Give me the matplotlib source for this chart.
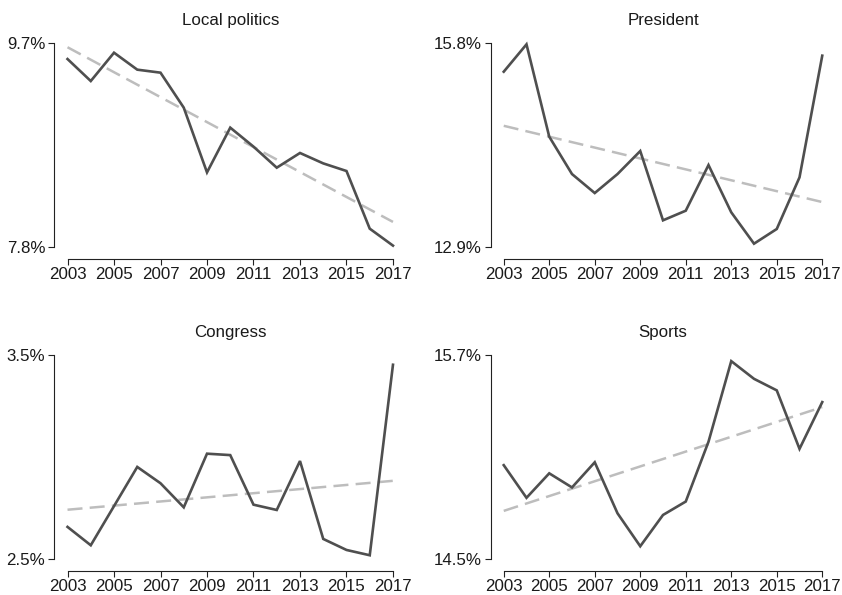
import numpy as np
import matplotlib
matplotlib.use("Agg")
import matplotlib.pyplot as plt

plt.rcParams['font.family'] = ['Liberation Sans', 'DejaVu Sans']

years = list(range(2003, 2018))
year_ticks = [2003, 2005, 2007, 2009, 2011, 2013, 2015, 2017]

local_politics = [9.554, 9.349, 9.613, 9.455, 9.427, 9.101, 8.498, 8.915,
                  8.738, 8.542, 8.679, 8.582, 8.511, 7.974, 7.816]
president = [15.397, 15.786, 14.473, 13.942, 13.672, 13.942, 14.269, 13.284,
             13.421, 14.070, 13.398, 12.952, 13.161, 13.895, 15.625]
congress = [2.659, 2.569, 2.761, 2.953, 2.873, 2.755, 3.018, 3.011,
            2.768, 2.742, 2.982, 2.600, 2.546, 2.520, 3.454]
sports = [15.054, 14.862, 15.006, 14.923, 15.071, 14.771, 14.577, 14.761,
          14.840, 15.192, 15.666, 15.562, 15.494, 15.150, 15.425]

titles = ["Local politics", "President", "Congress", "Sports"]
series = [local_politics, president, congress, sports]
y_ranges = [(7.8, 9.7), (12.9, 15.8), (2.5, 3.5), (14.5, 15.7)]

W, H = 842, 595
fig = plt.figure(figsize=(W / 100, H / 100), dpi=100)

# plot regions in pixels: (left, top, right, bottom)
regions = [(54.5, 35.2, 406.0, 255.5),
           (491.0, 35.2, 835.0, 255.5),
           (54.5, 347.2, 406.0, 567.5),
           (491.0, 347.2, 835.0, 567.5)]

LINE = "#4f4f4f"
TREND = "#bdbdbd"
FS = 12.2

for title, vals, (ylo, yhi), (l, t, r, b) in zip(titles, series, y_ranges, regions):
    ax = fig.add_axes([l / W, 1 - b / H, (r - l) / W, (b - t) / H])
    x = np.array(years, dtype=float)
    y = np.array(vals)
    slope, icpt = np.polyfit(x, y, 1)
    tl, = ax.plot(x, slope * x + icpt, color=TREND, lw=1.8,
                  solid_capstyle="butt", dash_capstyle="butt")
    tl.set_dashes([6.0, 2.9])
    ax.plot(x, y, color=LINE, lw=1.9, solid_joinstyle="miter")

    xm = 0.04 * (years[-1] - years[0])
    ym = 0.04 * (yhi - ylo)
    ax.set_xlim(years[0] - xm, years[-1] + xm)
    ax.set_ylim(ylo - ym, yhi + ym)

    for s in ("top", "right"):
        ax.spines[s].set_visible(False)
    ax.spines["left"].set_bounds(ylo, yhi)
    ax.spines["bottom"].set_bounds(years[0], years[-1])
    ax.spines["bottom"].set_position(("outward", 2.5))
    for s in ("left", "bottom"):
        ax.spines[s].set_linewidth(0.8)
        ax.spines[s].set_color("#222222")
    ax.tick_params(axis="both", direction="out", length=4.2, width=0.8,
                   color="#222222", labelcolor="#1a1a1a", labelsize=FS)
    ax.tick_params(axis="x", pad=1.5)
    ax.tick_params(axis="y", pad=2.5)

    ax.set_xticks(year_ticks)
    ax.set_xticklabels([str(v) for v in year_ticks])
    ax.set_yticks([ylo, yhi])
    ax.set_yticklabels([f"{ylo:.1f}%", f"{yhi:.1f}%"])

    ax.set_facecolor("none")
    ax.set_title(title, fontsize=FS, pad=7.0, color="#1a1a1a")

fig.savefig("out.png", dpi=100, facecolor="white")
